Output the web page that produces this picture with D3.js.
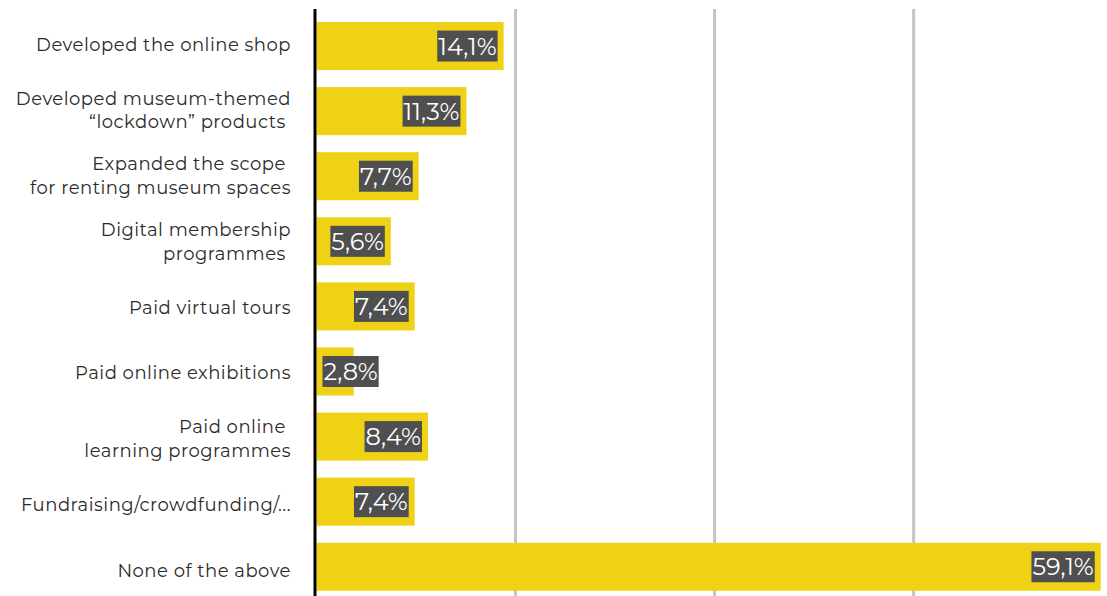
<!DOCTYPE html>
<html>
<head>
<meta charset="utf-8">
<script src="https://cdn.jsdelivr.net/npm/d3@7"></script>
<style>
  html, body { margin: 0; padding: 0; background: #ffffff; }
  svg { display: block; }
  .cat { font-family: Montserrat, "Noto Sans", "Open Sans", sans-serif; font-size: 18px; letter-spacing: 0.5px; fill: #2b2b2b; white-space: pre; }
  .val { font-family: Montserrat, "Noto Sans", "Open Sans", sans-serif; font-size: 24px; fill: #ffffff; }
</style>
</head>
<body>
<svg id="chart" width="1107" height="596"></svg>
<script>
// Revenue activities introduced by museums (share of respondents, %)
const categories = [
  ["Developed the online shop"],
  ["Developed museum-themed", "\u201Clockdown\u201D products "],
  ["Expanded the scope ", "for renting museum spaces"],
  ["Digital membership", "programmes "],
  ["Paid virtual tours"],
  ["Paid online exhibitions"],
  ["Paid online ", "learning programmes"],
  ["Fundraising/crowdfunding/..."],
  ["None of the above"]
];
const values = [14.1, 11.3, 7.7, 5.6, 7.4, 2.8, 8.4, 7.4, 59.1];
const valueLabels = ["14,1%", "11,3%", "7,7%", "5,6%", "7,4%", "2,8%", "8,4%", "7,4%", "59,1%"];
const gridTicks = [15, 30, 45];

const W = 1107, H = 596;
const svg = d3.select("#chart");

const x = d3.scaleLinear().domain([0, 60]).range([316.5, 1112.7]);
const y = d3.scaleBand()
  .domain(d3.range(values.length))
  .range([13.5, 599.3])
  .paddingInner(0.262)
  .paddingOuter(0.131);

// category labels sit on their own slightly wider vertical grid
const yLabel = d3.scalePoint()
  .domain(d3.range(categories.length))
  .range([45.2, 571.2]);

// vertical gridlines
svg.append("g").selectAll("line")
  .data(gridTicks)
  .join("line")
  .attr("x1", d => x(d)).attr("x2", d => x(d))
  .attr("y1", 9).attr("y2", H)
  .attr("stroke", "#c4c4c4")
  .attr("stroke-width", 3);

// bars
svg.append("g").selectAll("rect")
  .data(values)
  .join("rect")
  .attr("x", x(0))
  .attr("y", (d, i) => y(i))
  .attr("width", d => x(d) - x(0))
  .attr("height", y.bandwidth())
  .attr("fill", "#efd116");

// baseline axis
svg.append("line")
  .attr("x1", x(0) - 1.5).attr("x2", x(0) - 1.5)
  .attr("y1", 9).attr("y2", H)
  .attr("stroke", "#000000")
  .attr("stroke-width", 3);

// category labels
const lineH = 23.5;
const catG = svg.append("g");
categories.forEach((lines, i) => {
  const cy = yLabel(i);
  const t = catG.append("text")
    .attr("class", "cat")
    .attr("text-anchor", "end");
  lines.forEach((ln, j) => {
    t.append("tspan")
      .attr("x", 291)
      .attr("y", cy + 5.5 + (j - (lines.length - 1) / 2) * lineH)
      .text(ln);
  });
});

// value labels with dark boxes
const valG = svg.append("g");
values.forEach((v, i) => {
  const cy = y(i) + y.bandwidth() / 2;
  const g = valG.append("g");
  const rect = g.append("rect").attr("fill", "#4f4f4f");
  const t = g.append("text")
    .attr("class", "val")
    .attr("text-anchor", "start")
    .attr("y", cy + 8.5)
    .text(valueLabels[i]);
  const w = t.node().getComputedTextLength();
  const boxW = w + 2;
  let right = x(v) - 6;
  let left = right - boxW;
  if (left < x(0) + 6) { left = x(0) + 6; right = left + boxW; }
  t.attr("x", left + 1);
  rect.attr("x", left).attr("y", cy - 15.5)
    .attr("width", boxW).attr("height", 31);
});
</script>
</body>
</html>
